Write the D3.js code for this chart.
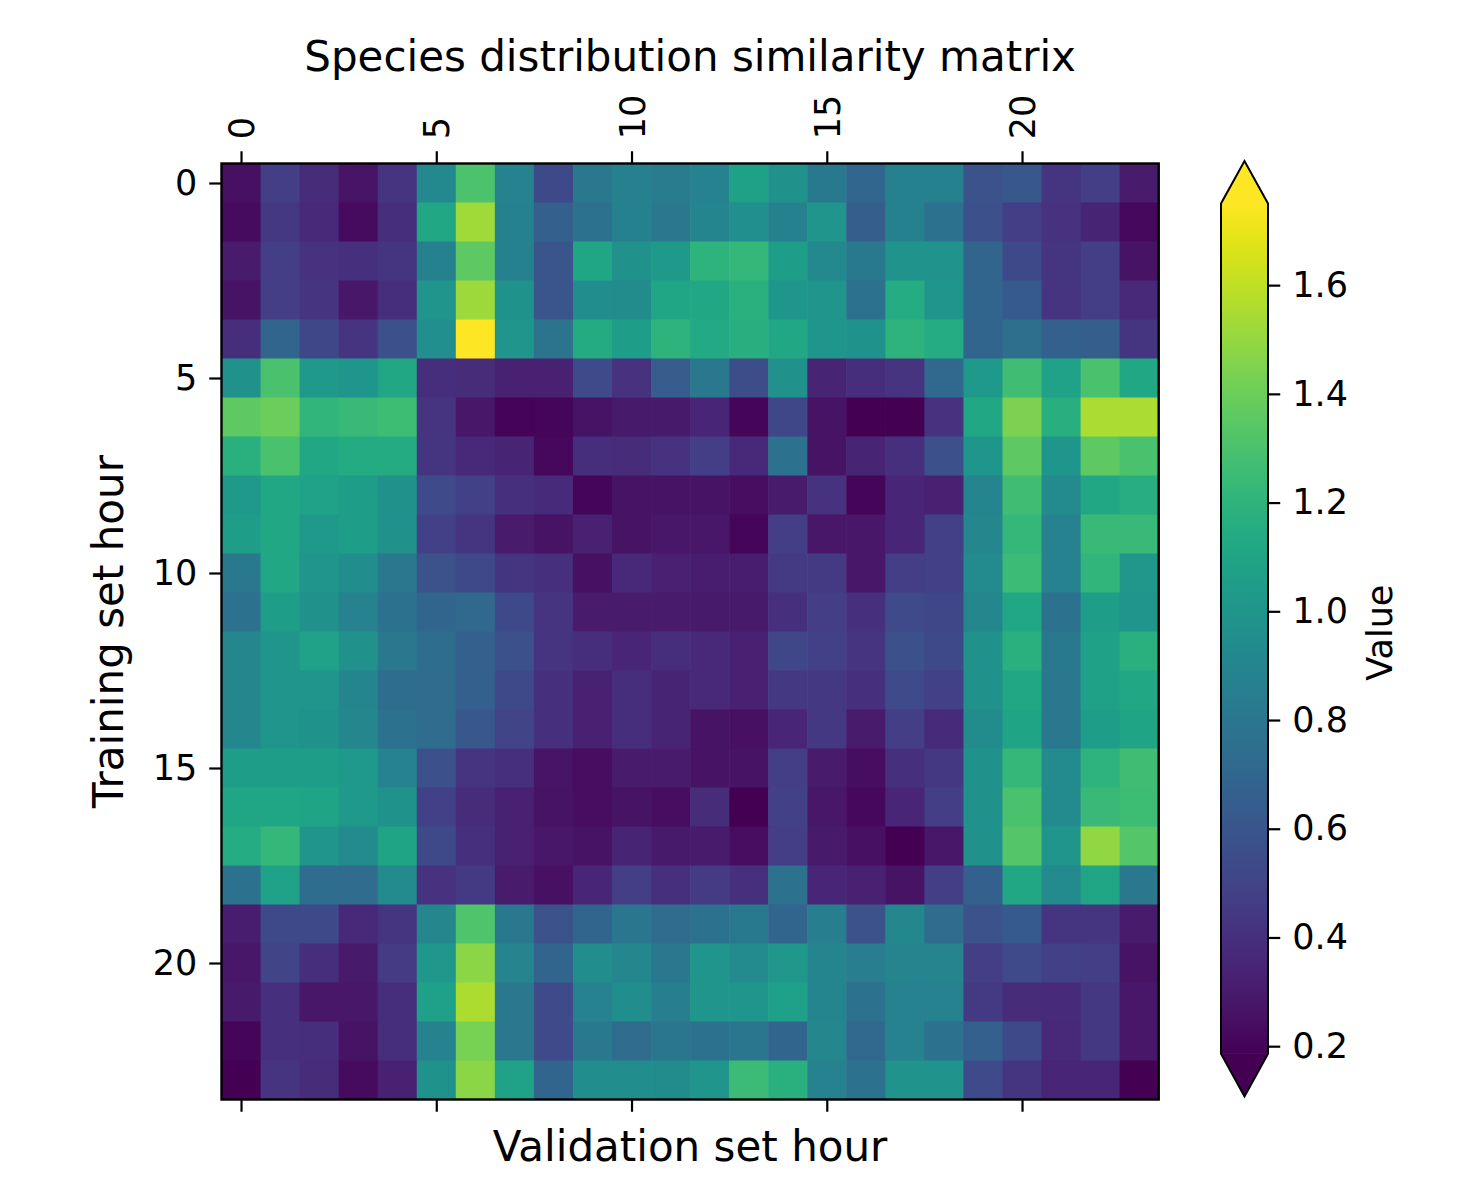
<!DOCTYPE html>
<html>
<head>
<meta charset="utf-8">
<script src="https://cdn.jsdelivr.net/npm/d3@7"></script>
<style>
body { margin: 0; background: #fff; }
text { font-family: "DejaVu Sans", sans-serif; fill: #000; }
</style>
</head>
<body>
<svg id="chart" width="1464" height="1177"></svg>
<script>
// ---------------- data ----------------
const hours = [0,1,2,3,4,5,6,7,8,9,10,11,12,13,14,15,16,17,18,19,20,21,22,23];
const xTickValues = [0,5,10,15,20];
const yTickValues = [0,5,10,15,20];
const colorbarTicks = [0.2,0.4,0.6,0.8,1.0,1.2,1.4,1.6];
const colorMin = 0.186;
const colorMax = 1.75;
const titleText = "Species distribution similarity matrix";
const xLabelText = "Validation set hour";
const yLabelText = "Training set hour";
const colorbarLabelText = "Value";

// rows = training set hour, columns = validation set hour
const similarity = [
 [0.25,0.47,0.38,0.27,0.42,0.92,1.31,0.88,0.53,0.81,0.86,0.83,0.88,1.08,0.97,0.82,0.70,0.87,0.87,0.58,0.61,0.43,0.47,0.30],
 [0.23,0.44,0.36,0.23,0.39,1.12,1.53,0.87,0.66,0.77,0.87,0.81,0.90,0.96,0.87,1.00,0.65,0.87,0.77,0.57,0.47,0.41,0.34,0.22],
 [0.30,0.47,0.41,0.40,0.43,0.87,1.36,0.87,0.59,1.11,0.97,1.03,1.20,1.23,1.05,0.92,0.82,0.99,0.99,0.69,0.53,0.43,0.47,0.26],
 [0.26,0.47,0.42,0.28,0.39,1.00,1.52,0.98,0.59,0.95,0.94,1.11,1.12,1.18,1.01,1.00,0.77,1.15,1.01,0.69,0.62,0.42,0.47,0.36],
 [0.39,0.69,0.52,0.42,0.57,0.96,1.80,1.00,0.78,1.14,1.05,1.20,1.13,1.17,1.12,1.01,0.98,1.20,1.15,0.69,0.75,0.66,0.65,0.43],
 [0.97,1.30,1.03,1.01,1.12,0.39,0.38,0.33,0.33,0.54,0.41,0.64,0.81,0.55,0.97,0.34,0.39,0.42,0.71,1.03,1.27,1.09,1.30,1.12],
 [1.36,1.40,1.21,1.24,1.26,0.42,0.28,0.20,0.21,0.26,0.29,0.29,0.35,0.21,0.52,0.26,0.18,0.17,0.41,1.12,1.44,1.17,1.55,1.55],
 [1.18,1.30,1.12,1.14,1.14,0.43,0.36,0.34,0.22,0.39,0.38,0.41,0.47,0.36,0.77,0.26,0.34,0.40,0.57,1.01,1.36,1.01,1.36,1.30],
 [1.03,1.12,1.09,1.05,0.97,0.54,0.48,0.40,0.37,0.21,0.26,0.26,0.26,0.24,0.30,0.41,0.21,0.35,0.33,0.90,1.27,0.93,1.12,1.16],
 [1.05,1.12,1.03,1.05,0.97,0.48,0.43,0.30,0.26,0.33,0.26,0.28,0.28,0.21,0.47,0.28,0.28,0.35,0.48,0.91,1.23,0.88,1.24,1.24],
 [0.81,1.12,1.00,0.95,0.81,0.58,0.53,0.43,0.40,0.25,0.36,0.33,0.31,0.31,0.45,0.45,0.28,0.47,0.48,0.93,1.25,0.88,1.21,1.02],
 [0.77,1.05,0.97,0.88,0.77,0.69,0.71,0.53,0.42,0.30,0.30,0.30,0.29,0.29,0.40,0.47,0.40,0.54,0.52,0.91,1.12,0.77,1.05,1.00],
 [0.91,1.00,1.09,0.97,0.81,0.74,0.66,0.57,0.42,0.39,0.35,0.39,0.36,0.33,0.52,0.48,0.42,0.57,0.53,0.97,1.18,0.81,1.08,1.18],
 [0.91,1.00,1.00,0.90,0.74,0.73,0.66,0.53,0.40,0.33,0.39,0.34,0.36,0.33,0.44,0.44,0.40,0.54,0.48,0.97,1.12,0.81,1.08,1.12],
 [0.91,1.00,0.98,0.91,0.77,0.73,0.61,0.50,0.40,0.33,0.39,0.34,0.26,0.25,0.35,0.44,0.30,0.47,0.37,0.94,1.10,0.81,1.05,1.10],
 [1.05,1.05,1.05,1.03,0.88,0.57,0.42,0.40,0.27,0.24,0.30,0.30,0.26,0.26,0.47,0.30,0.24,0.40,0.44,0.97,1.23,0.93,1.20,1.27],
 [1.11,1.11,1.10,1.03,0.98,0.48,0.38,0.33,0.26,0.24,0.26,0.24,0.38,0.19,0.48,0.28,0.22,0.35,0.47,0.97,1.30,0.93,1.24,1.26],
 [1.15,1.23,1.00,0.93,1.10,0.53,0.40,0.33,0.28,0.26,0.34,0.29,0.30,0.24,0.47,0.29,0.25,0.17,0.28,0.97,1.33,1.00,1.49,1.33],
 [0.77,1.09,0.74,0.73,0.93,0.41,0.45,0.30,0.25,0.35,0.47,0.40,0.46,0.40,0.77,0.35,0.33,0.26,0.47,0.66,1.12,0.93,1.11,0.81],
 [0.31,0.53,0.53,0.36,0.43,0.91,1.32,0.81,0.58,0.69,0.80,0.73,0.77,0.82,0.69,0.85,0.58,0.91,0.73,0.58,0.62,0.43,0.43,0.30],
 [0.28,0.50,0.39,0.29,0.46,1.02,1.48,0.89,0.69,0.95,0.91,0.81,1.00,0.93,1.02,0.90,0.84,0.89,0.89,0.47,0.54,0.48,0.47,0.26],
 [0.29,0.40,0.28,0.28,0.39,1.07,1.56,0.81,0.54,0.88,0.95,0.85,1.00,1.00,1.07,0.90,0.77,0.88,0.88,0.45,0.38,0.37,0.44,0.28],
 [0.21,0.40,0.39,0.26,0.39,0.88,1.43,0.81,0.54,0.81,0.73,0.80,0.77,0.80,0.69,0.91,0.71,0.88,0.77,0.66,0.53,0.36,0.44,0.28],
 [0.18,0.42,0.38,0.23,0.33,0.98,1.48,1.09,0.69,0.95,0.95,0.94,1.00,1.25,1.18,0.88,0.77,0.99,0.99,0.54,0.43,0.35,0.35,0.18]
];

// ---------------- layout ----------------
const plot = { left: 221.5, right: 1158.7, top: 163.5, bottom: 1099.5 };
const cbar = { left: 1221, right: 1268, top: 203.6, bottom: 1053.8, ext: 42.6 };
const tickLen = 12.25, tickPad = 12, tickFont = 35, labelFont = 42;

const svg = d3.select("#chart");

const xBand = d3.scaleBand().domain(hours).range([plot.left, plot.right]);
const yBand = d3.scaleBand().domain(hours).range([plot.top, plot.bottom]);
const xLin = d3.scaleLinear().domain([-0.5, hours.length - 0.5]).range([plot.left, plot.right]);
const yLin = d3.scaleLinear().domain([-0.5, hours.length - 0.5]).range([plot.top, plot.bottom]);
const color = d3.scaleSequential(d3.interpolateViridis).domain([colorMin, colorMax]).clamp(true);

// cells
const cells = [];
similarity.forEach((row, i) => row.forEach((v, j) => cells.push({ r: hours[i], c: hours[j], v })));
svg.append("g").selectAll("rect").data(cells).join("rect")
  .attr("x", d => xBand(d.c))
  .attr("y", d => yBand(d.r))
  .attr("width", xBand.bandwidth() + 0.6)
  .attr("height", yBand.bandwidth() + 0.6)
  .attr("fill", d => color(d.v));

// frame
svg.append("rect")
  .attr("x", plot.left).attr("y", plot.top)
  .attr("width", plot.right - plot.left).attr("height", plot.bottom - plot.top)
  .attr("fill", "none").attr("stroke", "#000").attr("stroke-width", 2.4);

function styleAxis(g) {
  g.attr("font-family", "DejaVu Sans").attr("font-size", tickFont);
  g.select(".domain").remove();
  g.selectAll(".tick line").attr("stroke", "#000").attr("stroke-width", 2.2);
  g.selectAll(".tick text").attr("fill", "#000");
}

// top axis (labels rotated)
const gTop = svg.append("g").attr("transform", `translate(0,${plot.top})`)
  .call(d3.axisTop(xLin).tickValues(xTickValues).tickSize(tickLen).tickSizeOuter(0).tickPadding(tickPad))
  .call(styleAxis);
gTop.selectAll(".tick text")
  .attr("x", 0).attr("y", 0).attr("dy", "0.36em")
  .attr("text-anchor", "start")
  .attr("transform", `translate(0,${-(tickLen + tickPad)}) rotate(-90)`);

// bottom axis (ticks only)
svg.append("g").attr("transform", `translate(0,${plot.bottom})`)
  .call(d3.axisBottom(xLin).tickValues(xTickValues).tickSize(tickLen).tickSizeOuter(0).tickFormat(""))
  .call(styleAxis);

// left axis
svg.append("g").attr("transform", `translate(${plot.left},0)`)
  .call(d3.axisLeft(yLin).tickValues(yTickValues).tickSize(tickLen).tickSizeOuter(0).tickPadding(tickPad))
  .call(styleAxis);

// title and axis labels
const mid = (plot.left + plot.right) / 2;
svg.append("text").attr("x", mid).attr("y", 71).attr("text-anchor", "middle")
  .attr("font-size", labelFont).text(titleText);
svg.append("text").attr("x", mid).attr("y", 1161).attr("text-anchor", "middle")
  .attr("font-size", labelFont).text(xLabelText);
svg.append("text").attr("text-anchor", "middle").attr("font-size", labelFont)
  .attr("transform", `translate(123,${(plot.top + plot.bottom) / 2}) rotate(-90)`)
  .text(yLabelText);

// ---------------- colorbar ----------------
const cScale = d3.scaleLinear().domain([colorMin, colorMax]).range([cbar.bottom, cbar.top]);
const defs = svg.append("defs");
const grad = defs.append("linearGradient").attr("id", "vgrad")
  .attr("x1", 0).attr("y1", 1).attr("x2", 0).attr("y2", 0);
d3.range(0, 1.0001, 0.02).forEach(t => {
  grad.append("stop").attr("offset", t).attr("stop-color", d3.interpolateViridis(t));
});
const cx = (cbar.left + cbar.right) / 2;
svg.append("rect")
  .attr("x", cbar.left).attr("y", cbar.top)
  .attr("width", cbar.right - cbar.left).attr("height", cbar.bottom - cbar.top)
  .attr("fill", "url(#vgrad)");
svg.append("path")
  .attr("d", `M${cbar.left},${cbar.top + 0.5} L${cx},${cbar.top - cbar.ext} L${cbar.right},${cbar.top + 0.5} Z`)
  .attr("fill", color(colorMax));
svg.append("path")
  .attr("d", `M${cbar.left},${cbar.bottom - 0.5} L${cx},${cbar.bottom + cbar.ext} L${cbar.right},${cbar.bottom - 0.5} Z`)
  .attr("fill", color(colorMin));
svg.append("path")
  .attr("d", `M${cbar.left},${cbar.top} L${cx},${cbar.top - cbar.ext} L${cbar.right},${cbar.top} L${cbar.right},${cbar.bottom} L${cx},${cbar.bottom + cbar.ext} L${cbar.left},${cbar.bottom} Z`)
  .attr("fill", "none").attr("stroke", "#000").attr("stroke-width", 2);

svg.append("g").attr("transform", `translate(${cbar.right},0)`)
  .call(d3.axisRight(cScale).tickValues(colorbarTicks).tickFormat(d3.format(".1f")).tickSize(tickLen).tickSizeOuter(0).tickPadding(tickPad))
  .call(styleAxis);

svg.append("text").attr("text-anchor", "middle").attr("font-size", tickFont)
  .attr("transform", `translate(1392,${(cbar.top + cbar.bottom) / 2 + 4}) rotate(-90)`)
  .text(colorbarLabelText);
</script>
</body>
</html>
